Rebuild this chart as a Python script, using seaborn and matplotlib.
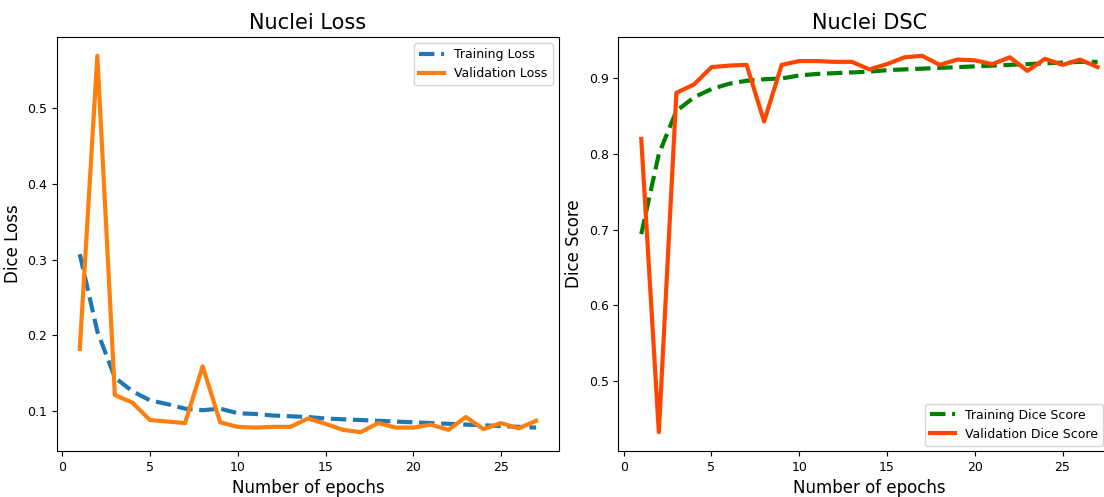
import matplotlib
matplotlib.use('Agg')
import matplotlib.pyplot as plt
import seaborn as sns
import numpy as np

epochs = np.arange(1, 28)

train_loss = [0.307, 0.205, 0.144, 0.126, 0.114, 0.109, 0.103, 0.101, 0.103, 0.097,
              0.096, 0.094, 0.093, 0.092, 0.090, 0.089, 0.088, 0.087, 0.086, 0.085,
              0.084, 0.083, 0.082, 0.081, 0.080, 0.079, 0.078]
val_loss = [0.182, 0.569, 0.121, 0.111, 0.088, 0.086, 0.084, 0.159, 0.085, 0.079,
            0.078, 0.079, 0.079, 0.090, 0.083, 0.075, 0.072, 0.084, 0.078, 0.078,
            0.082, 0.075, 0.092, 0.076, 0.084, 0.077, 0.087]

train_dice = [0.694, 0.800, 0.857, 0.875, 0.886, 0.893, 0.897, 0.899, 0.900, 0.904,
              0.906, 0.907, 0.908, 0.909, 0.911, 0.912, 0.913, 0.914, 0.915, 0.916,
              0.917, 0.918, 0.919, 0.920, 0.921, 0.922, 0.922]
val_dice = [0.820, 0.432, 0.881, 0.892, 0.915, 0.917, 0.918, 0.843, 0.918, 0.923,
            0.923, 0.922, 0.922, 0.912, 0.919, 0.928, 0.930, 0.918, 0.925, 0.924,
            0.919, 0.928, 0.910, 0.926, 0.918, 0.925, 0.915]

fig = plt.figure(figsize=(11.04, 4.97), dpi=100)
ax1 = fig.add_axes([0.0516, 0.0926, 0.4547, 0.833])
ax2 = fig.add_axes([0.5602, 0.0926, 0.4547, 0.833])

# Loss panel
sns.lineplot(x=epochs, y=train_loss, ax=ax1, color='#1f77b4', linestyle='--',
             linewidth=3, label='Training Loss')
sns.lineplot(x=epochs, y=val_loss, ax=ax1, color='#ff7f0e', linewidth=3,
             label='Validation Loss')
ax1.set_title('Nuclei Loss', fontsize=15)
ax1.set_xlabel('Number of epochs', fontsize=12)
ax1.set_ylabel('Dice Loss', fontsize=12)
ax1.legend(loc='upper right', fontsize=9)

# Dice panel (axes runs slightly past the right edge, like the original)
sns.lineplot(x=epochs, y=train_dice, ax=ax2, color='green', linestyle='--',
             linewidth=3, label='Training Dice Score')
sns.lineplot(x=epochs, y=val_dice, ax=ax2, color='orangered', linewidth=3,
             label='Validation Dice Score')
ax2.set_title('Nuclei DSC', fontsize=15)
ax2.set_xlabel('Number of epochs', fontsize=12)
ax2.set_ylabel('Dice Score', fontsize=12)
ax2.legend(loc='lower right', fontsize=9, bbox_to_anchor=(0.999, 0.103),
           bbox_transform=fig.transFigure, borderaxespad=0)

for ax in (ax1, ax2):
    ax.set_xticks([0, 5, 10, 15, 20, 25])
    ax.tick_params(labelsize=9)

fig.savefig('out.png', dpi=100)
